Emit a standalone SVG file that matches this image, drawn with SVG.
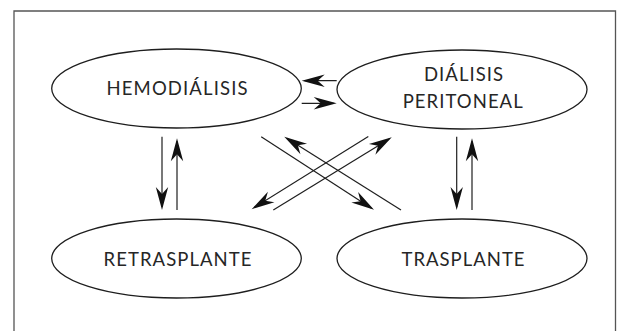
<svg xmlns="http://www.w3.org/2000/svg" width="621" height="331" viewBox="0 0 621 331">
  <style>
    .node ellipse { fill: #ffffff; stroke: #1e1e1e; stroke-width: 1.3; }
    .node text { font-family: Lato, "Open Sans", "Liberation Sans", sans-serif; font-size: 18.5px; fill: #262626; text-anchor: middle; }
    .edge line { stroke: #1e1e1e; stroke-width: 1.2; fill: none; }
    .frame { stroke: #555555; stroke-width: 1.3; fill: none; }
  </style>
  <defs>
    <!-- slender barbed arrowhead; tip sits 3px beyond the line end -->
    <marker id="head" viewBox="-25 -8 26 16" markerUnits="userSpaceOnUse" markerWidth="26" markerHeight="16" refX="-3" refY="0" orient="auto">
      <path d="M0,0 L-23,-6.2 L-16,0 L-23,6.2 Z" fill="#111111"/>
    </marker>
  </defs>

  <rect width="621" height="331" fill="#ffffff"/>
  <!-- open frame: top, left and right edges -->
  <path class="frame" d="M14,331 V11 H615.5 V331"/>

  <g id="hemodialisis" class="node">
    <ellipse cx="176.5" cy="88.5" rx="124.8" ry="39.5"/>
    <text x="177" y="94.5" textLength="141" lengthAdjust="spacing">HEMODIÁLISIS</text>
  </g>
  <g id="dialisis-peritoneal" class="node">
    <ellipse cx="462" cy="89.5" rx="125" ry="39.5"/>
    <text x="463.5" y="81" textLength="79" lengthAdjust="spacing">DIÁLISIS</text>
    <text x="462.7" y="107.5" textLength="120" lengthAdjust="spacing">PERITONEAL</text>
  </g>
  <g id="retrasplante" class="node">
    <ellipse cx="176.5" cy="258.5" rx="124.8" ry="39.5"/>
    <text x="177.5" y="265.5" textLength="148" lengthAdjust="spacing">RETRASPLANTE</text>
  </g>
  <g id="trasplante" class="node">
    <ellipse cx="462" cy="258.5" rx="125" ry="39.5"/>
    <text x="463" y="265.5" textLength="123" lengthAdjust="spacing">TRASPLANTE</text>
  </g>

  <g id="connectors" class="edge">
    <!-- between the two dialysis modes -->
    <line x1="336.7" y1="80.7" x2="304.7" y2="80.7" marker-end="url(#head)"/>
    <line x1="301.7" y1="103.3" x2="333.7" y2="103.3" marker-end="url(#head)"/>
    <!-- hemodialysis and re-transplant -->
    <line x1="162" y1="136.7" x2="162" y2="207" marker-end="url(#head)"/>
    <line x1="177" y1="210" x2="177" y2="141.3" marker-end="url(#head)"/>
    <!-- peritoneal dialysis and transplant -->
    <line x1="456.7" y1="136.7" x2="456.7" y2="207" marker-end="url(#head)"/>
    <line x1="472" y1="210" x2="472" y2="141.3" marker-end="url(#head)"/>
    <!-- crossing diagonals -->
    <line x1="261.2" y1="136.7" x2="371.5" y2="208.2" marker-end="url(#head)"/>
    <line x1="401" y1="210" x2="286.8" y2="138.3" marker-end="url(#head)"/>
    <line x1="368.3" y1="136.5" x2="254.2" y2="207.6" marker-end="url(#head)"/>
    <line x1="273.3" y1="210" x2="389.2" y2="138.9" marker-end="url(#head)"/>
  </g>
</svg>
